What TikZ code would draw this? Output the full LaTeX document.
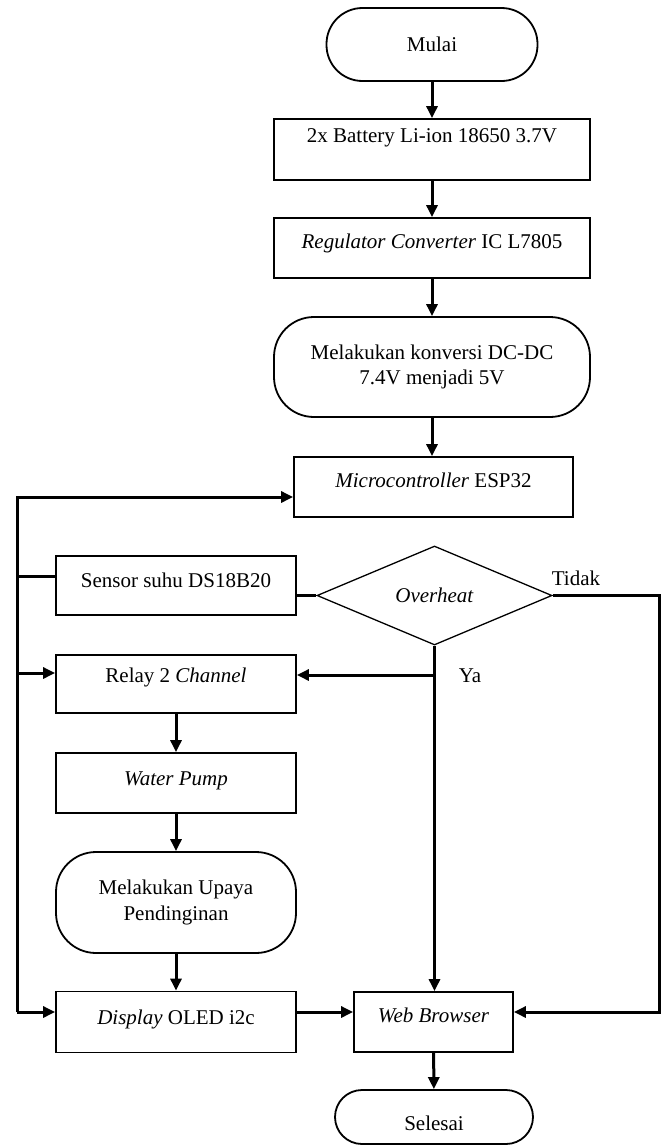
\documentclass[tikz,border=0pt]{standalone}
\usepackage{fontspec}
\setmainfont{Liberation Serif}
\usetikzlibrary{shapes.geometric}
\usetikzlibrary{arrows.meta}
\tikzset{box/.style={draw, line width=1.8pt, inner sep=0pt, minimum width=#1, minimum height=60pt, text height=15pt, text depth=15pt},
%default width is the one of the top column
box/.default={316pt},
term/.style={draw, line width=1.8pt, inner sep=0pt, rounded corners=#1, align=center},
term/.default={36pt},
arr/.style={line width=3pt, -{Triangle[length=12pt,width=11pt]}},
link/.style={line width=3pt}}

\begin{document}
\begin{tikzpicture}[x=1pt,y=-1pt,font=\fontsize{21}{25.5}\selectfont]
\useasboundingbox (0,0) rectangle (661,1146);
% main column
\node[term, minimum width=211pt, minimum height=73pt] (mulai) at (432,44.5) {Mulai};
\node[box, minimum height=61pt, text depth=30pt] (battery) at (432,149.5) {2x Battery Li-ion 18650 3.7V};
\node[box] (regulator) at (432,248) {\textit{Regulator Converter} IC L7805};
\node[term=40pt, minimum width=316pt, minimum height=100pt] (konversi) at (432,367) {Melakukan konversi DC-DC\\7.4V menjadi 5V};
\node[box=279pt] (micro) at (433.5,487) {\textit{Microcontroller} ESP32};

% left column
\node[box=240pt, minimum height=59pt, text depth=11pt] (sensor) at (176,585.5) {Sensor suhu DS18B20};
\node[box=240pt, minimum height=58pt, text depth=19pt] (relay) at (176,684) {Relay 2 \textit{Channel}};
\node[box=240pt, text depth=11pt] (pump) at (176,783) {\textit{Water Pump}};
\node[term=40pt, minimum width=240pt, minimum height=101pt] (upaya) at (176,902.5) {Melakukan Upaya\\Pendinginan};
\node[box=240pt, minimum height=61pt, text depth=10pt] (display) at (176,1022) {\textit{Display} OLED i2c};

% decision and end
\node[diamond, draw, line width=1.3pt, inner sep=0pt, minimum width=235pt, minimum height=99pt] (overheat) at (434.5,595.5) {\textit{Overheat}};
\node[box=159pt] (web) at (433.5,1022) {\textit{Web Browser}};
\node[term=27pt, minimum width=198pt, minimum height=54pt, text height=30pt, text depth=4pt] (selesai) at (434,1117) {Selesai};

%labels
\node (tidak) at (576,578) {Tidak};
\node (ya) at (470,676) {Ya};

% bus lines
\coordinate (busM) at (17,497);
\coordinate (busS) at (17,576);
\coordinate (busR) at (17,673);
\coordinate (busD) at (17,1012);
\coordinate (sideR) at (659,595.5);
\coordinate (yaJ) at (434.5,675);

\draw[arr] (mulai) -- (battery);
\draw[arr] (battery) -- (regulator);
\draw[arr] (regulator) -- (konversi);
\draw[arr] (konversi.south) -- (konversi.south |- micro.north);

\draw[arr] (busD) |- (busM -| micro.west);
\draw[link] (busS) -- (busS -| sensor.west);
\draw[arr] (busR) -- (busR -| relay.west);
\draw[arr] (busD) -- (busD -| display.west);

\draw[link] (overheat.west -| sensor.east) -- (overheat.west);
\draw[arr] (overheat.south) -- (overheat.south |- web.north);
\draw[arr] (yaJ) -- (yaJ -| relay.east);
\draw[arr] (overheat.east) -- (sideR) |- (busD -| web.east);

\draw[arr] (relay) -- (pump);
\draw[arr] (pump) -- (upaya);
\draw[arr] (upaya) -- (display);
\draw[arr] (busD -| display.east) -- (busD -| web.west);
\draw[arr] (web) -- (selesai);

\end{tikzpicture}
\end{document}
